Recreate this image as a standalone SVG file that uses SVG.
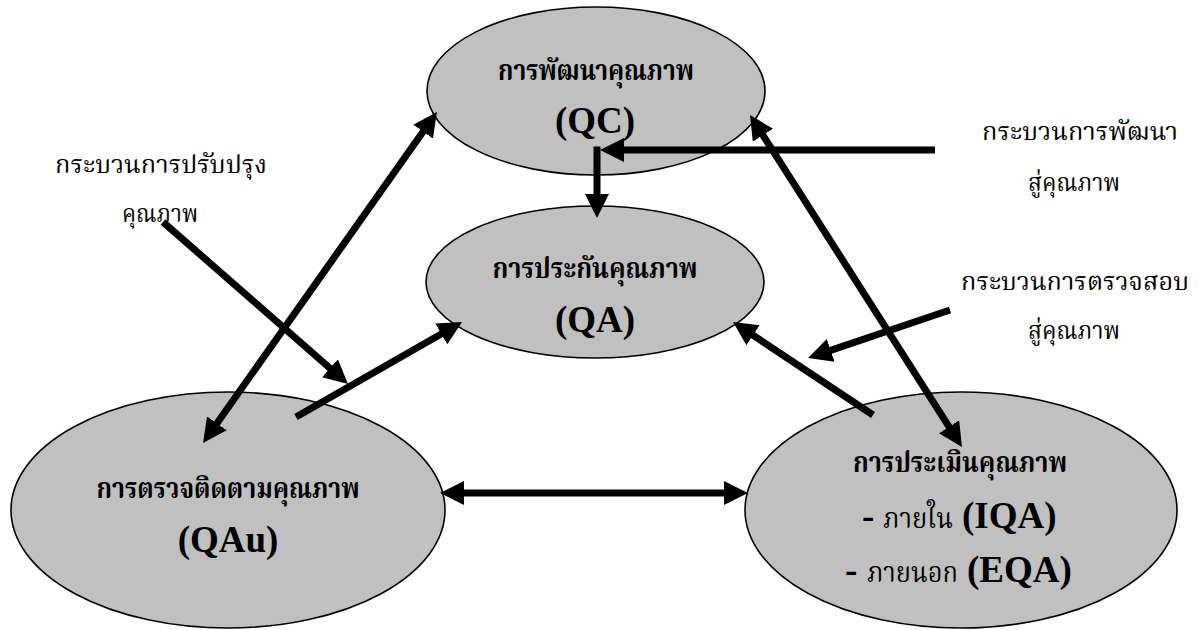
<svg xmlns="http://www.w3.org/2000/svg" width="1203" height="630" viewBox="0 0 1203 630">
<defs>
<style>
.node{fill:#c0c0c0;stroke:#000;stroke-width:1.6}
.th{font-family:"Noto Serif Thai","Noto Sans Thai","Liberation Serif",serif;font-size:29px;font-weight:normal;fill:#000}
.thb{font-family:"Noto Serif Thai","Noto Sans Thai","Liberation Serif",serif;font-size:29px;font-weight:bold;fill:#000}
.en{font-family:"Liberation Serif","Times New Roman","DejaVu Serif",serif;font-size:37px;font-weight:bold;fill:#000}
.lab{font-family:"Noto Serif Thai","Noto Sans Thai","Liberation Serif",serif;font-size:24px;fill:#000}
.c{stroke:#000;stroke-width:7;fill:none}
</style>
<marker id="ah" markerUnits="userSpaceOnUse" markerWidth="26" markerHeight="24" viewBox="0 0 26 24" refX="1" refY="12" orient="auto-start-reverse">
<path d="M0,0 L24,12 L0,24 z" fill="#000"/>
</marker>
</defs>
<rect width="1203" height="630" fill="#fff"/>
<g id="node-qc">
<ellipse class="node" cx="596" cy="91" rx="169" ry="84"/>
<text class="thb" x="596" y="80" text-anchor="middle" textLength="196" lengthAdjust="spacingAndGlyphs">การพัฒนาคุณภาพ</text>
<text class="en" x="595" y="133" text-anchor="middle">(QC)</text>
</g>
<g id="node-qa">
<ellipse class="node" cx="595" cy="282" rx="169" ry="76"/>
<text class="thb" x="595" y="278" text-anchor="middle" textLength="205" lengthAdjust="spacingAndGlyphs">การประกันคุณภาพ</text>
<text class="en" x="595" y="332" text-anchor="middle">(QA)</text>
</g>
<g id="node-qau">
<ellipse class="node" cx="228" cy="510" rx="217" ry="118"/>
<text class="thb" x="228" y="498" text-anchor="middle" textLength="263" lengthAdjust="spacingAndGlyphs">การตรวจติดตามคุณภาพ</text>
<text class="en" x="228" y="552" text-anchor="middle">(QAu)</text>
</g>
<g id="node-eqa">
<ellipse class="node" cx="961" cy="510" rx="216" ry="118"/>
<text class="thb" x="960" y="472" text-anchor="middle" textLength="214" lengthAdjust="spacingAndGlyphs">การประเมินคุณภาพ</text>
<text class="en" x="862" y="528"><tspan>-</tspan><tspan class="th" x="883" textLength="70" lengthAdjust="spacingAndGlyphs">ภายใน</tspan><tspan x="962">(IQA)</tspan></text>
<text class="en" x="845" y="582"><tspan>-</tspan><tspan class="th" x="867" textLength="91" lengthAdjust="spacingAndGlyphs">ภายนอก</tspan><tspan x="967">(EQA)</tspan></text>
</g>
<g id="labels">
<text class="lab" x="55" y="173" textLength="212" lengthAdjust="spacingAndGlyphs">กระบวนการปรับปรุง</text>
<text class="lab" x="122" y="222" textLength="76" lengthAdjust="spacingAndGlyphs">คุณภาพ</text>
<text class="lab" x="982" y="140" textLength="196" lengthAdjust="spacingAndGlyphs">กระบวนการพัฒนา</text>
<text class="lab" x="1028" y="191" textLength="92" lengthAdjust="spacingAndGlyphs">สู่คุณภาพ</text>
<text class="lab" x="961" y="290" textLength="228" lengthAdjust="spacingAndGlyphs">กระบวนการตรวจสอบ</text>
<text class="lab" x="1028" y="339" textLength="92" lengthAdjust="spacingAndGlyphs">สู่คุณภาพ</text>
</g>
<g id="connectors">
<line class="c" x1="216.3" y1="424.2" x2="423.7" y2="130.8" marker-start="url(#ah)" marker-end="url(#ah)"/>
<line class="c" x1="163" y1="222" x2="330.7" y2="368.9" marker-end="url(#ah)"/>
<line class="c" x1="296" y1="417" x2="442.1" y2="333.5" marker-end="url(#ah)"/>
<line class="c" x1="935" y1="150" x2="623" y2="150" marker-end="url(#ah)"/>
<line class="c" x1="597" y1="146.5" x2="597" y2="195" marker-end="url(#ah)"/>
<line class="c" x1="949.6" y1="427.6" x2="762.4" y2="134.4" marker-start="url(#ah)" marker-end="url(#ah)"/>
<line class="c" x1="873" y1="415" x2="752.2" y2="334.7" marker-end="url(#ah)"/>
<line class="c" x1="950" y1="310" x2="829.8" y2="350.6" marker-end="url(#ah)"/>
<line class="c" x1="463" y1="493" x2="725" y2="493" marker-start="url(#ah)" marker-end="url(#ah)"/>
</g>
</svg>
